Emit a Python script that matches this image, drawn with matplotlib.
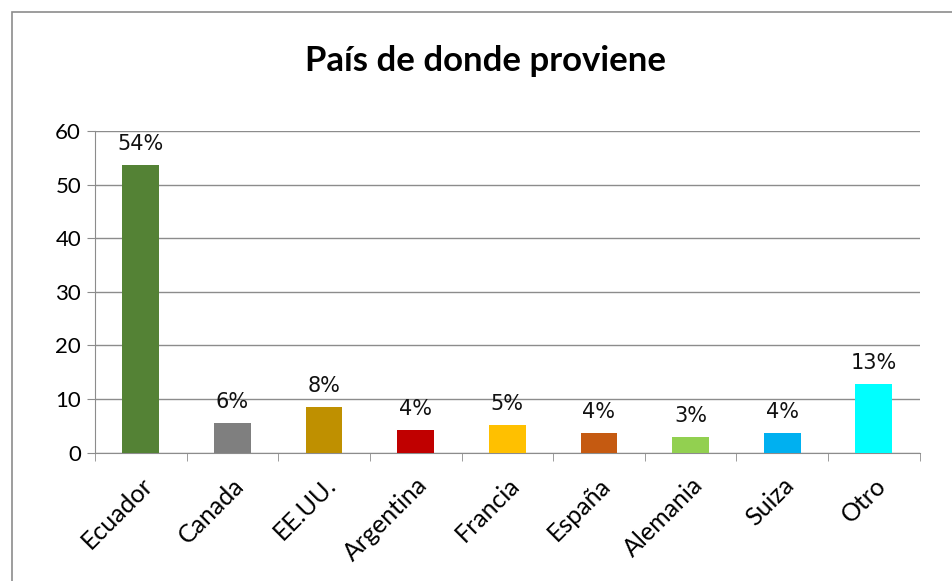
import matplotlib.pyplot as plt
import numpy as np
from matplotlib.patches import Rectangle

paises = ['Ecuador', 'Canada', 'EE.UU.', 'Argentina', 'Francia', 'España', 'Alemania', 'Suiza', 'Otro']
valores = [53.7, 5.5, 8.5, 4.2, 5.1, 3.7, 2.9, 3.7, 12.8]
etiquetas = ['54%', '6%', '8%', '4%', '5%', '4%', '3%', '4%', '13%']
colores = ['#548235', '#7f7f7f', '#bf9000', '#c00000', '#ffc000', '#c55a11', '#92d050', '#00b0f0', '#00ffff']

fig = plt.figure(figsize=(9.52, 5.81), dpi=100)
ax = fig.add_axes([0.0998, 0.221, 0.8662, 0.5535])

x = np.arange(len(paises))
barras = ax.bar(x, valores, width=0.4, color=colores, zorder=3)

for b, txt in zip(barras, etiquetas):
    ax.annotate(txt, (b.get_x() + b.get_width() / 2, b.get_height()),
                xytext=(0, 8), textcoords='offset points', ha='center', va='bottom',
                fontsize=15, family='DejaVu Sans', color='#111111')

ax.set_ylim(0, 60)
ax.set_xlim(-0.5, len(paises) - 0.5)
ax.set_yticks(range(0, 61, 10))
ax.yaxis.grid(True, color='#8c8c8c', linewidth=1, zorder=0)

ax.set_xticks(x)
ax.set_xticklabels(paises, rotation=45, ha='right', rotation_mode='anchor', fontsize=18, family='Lato')
ax.tick_params(axis='x', length=0, pad=15)
ax.set_xticks(np.arange(-0.5, len(paises), 1), minor=True)
ax.tick_params(axis='x', which='minor', length=6, color='#8c8c8c', direction='out')
ax.tick_params(axis='y', length=6, color='#8c8c8c', labelsize=16, pad=4)
for lab in ax.get_yticklabels():
    lab.set_family('Lato')

for s in ['top', 'right']:
    ax.spines[s].set_visible(False)
for s in ['left', 'bottom']:
    ax.spines[s].set_color('#8c8c8c')

fig.text(0.5105, 0.895, 'País de donde proviene', ha='center', va='center',
         fontsize=25, fontweight='bold', family='Lato')

# marco exterior del gráfico
fig.add_artist(Rectangle((0.0126, -0.05), 1.1, 1.029, transform=fig.transFigure,
                         fill=False, edgecolor='#8c8c8c', linewidth=1.2))

fig.savefig('out.png', dpi=100)
